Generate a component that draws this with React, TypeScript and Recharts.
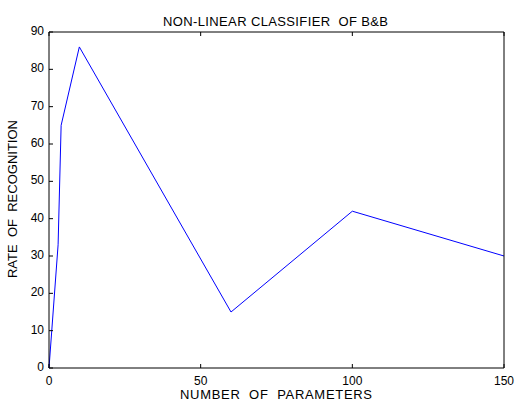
import React from "react";
import { LineChart, Line, XAxis, YAxis } from "recharts";

const paramCounts = [0, 3, 4, 10, 60, 100, 150];
const recognitionRates = [0, 33, 65, 86, 15, 42, 30];
const xTicks = [0, 50, 100, 150];
const yTicks = [0, 10, 20, 30, 40, 50, 60, 70, 80, 90];
const title = "NON-LINEAR CLASSIFIER  OF B&B";
const xLabel = "NUMBER  OF  PARAMETERS";
const yLabel = "RATE  OF  RECOGNITION";

const data = paramCounts.map((p, i) => ({ p, r: recognitionRates[i] }));

const W = 516;
const H = 403;
const FONT = "'Liberation Sans', Arial, sans-serif";
const FS = 12;
const LFS = 13;
const TL = 4;

const BottomTick = (props: any) => {
  const { x, y, payload } = props;
  return (
    <g>
      <line x1={x} y1={y} x2={x} y2={y - TL} stroke="#000" />
      <text x={x} y={y + 17} textAnchor="middle" fontSize={FS} fontFamily={FONT} fill="#000">
        {payload.value}
      </text>
    </g>
  );
};
const TopTick = (props: any) => {
  const { x, y } = props;
  return <line x1={x} y1={y} x2={x} y2={y + TL} stroke="#000" />;
};
const LeftTick = (props: any) => {
  const { x, y, payload } = props;
  return (
    <g>
      <line x1={x} y1={y} x2={x + TL} y2={y} stroke="#000" />
      <text x={x - 5} y={y + 3} textAnchor="end" fontSize={FS} fontFamily={FONT} fill="#000">
        {payload.value}
      </text>
    </g>
  );
};
const RightTick = (props: any) => {
  const { x, y } = props;
  return <line x1={x} y1={y} x2={x - TL} y2={y} stroke="#000" />;
};

export default function App() {
  return (
    <div style={{ position: "absolute", left: 0, top: 0, width: W, height: H, background: "#fff" }}>
      <LineChart width={W} height={H} data={data} margin={{ top: 0, right: 0, bottom: 0, left: 0 }}>
        <XAxis
          xAxisId="b"
          dataKey="p"
          type="number"
          domain={[0, 150]}
          ticks={xTicks}
          height={35}
          tickSize={0}
          tickMargin={0}
          tickLine={false}
          tick={<BottomTick />}
          axisLine={{ stroke: "#000" }}
          interval={0}
        />
        <XAxis
          xAxisId="t"
          orientation="top"
          dataKey="p"
          type="number"
          domain={[0, 150]}
          ticks={xTicks}
          height={32}
          tickSize={0}
          tickMargin={0}
          tickLine={false}
          tick={<TopTick />}
          axisLine={{ stroke: "#000" }}
          interval={0}
        />
        <YAxis
          yAxisId="l"
          type="number"
          domain={[0, 90]}
          ticks={yTicks}
          width={49}
          tickSize={0}
          tickMargin={0}
          tickLine={false}
          tick={<LeftTick />}
          axisLine={{ stroke: "#000" }}
          interval={0}
        />
        <YAxis
          yAxisId="r"
          orientation="right"
          type="number"
          domain={[0, 90]}
          ticks={yTicks}
          width={12}
          tickSize={0}
          tickMargin={0}
          tickLine={false}
          tick={<RightTick />}
          axisLine={{ stroke: "#000" }}
          interval={0}
        />
        <Line
          xAxisId="b"
          yAxisId="l"
          type="linear"
          dataKey="r"
          stroke="#0000ff"
          strokeWidth={1}
          dot={false}
          isAnimationActive={false}
        />
      </LineChart>
      <svg
        width={W}
        height={H}
        style={{ position: "absolute", left: 0, top: 0, pointerEvents: "none" }}
      >
        <text x={163} y={26} textLength={225} lengthAdjust="spacing" fontSize={LFS} fontFamily={FONT} fill="#000" style={{ whiteSpace: "pre" }}>
          {title}
        </text>
        <text x={180} y={399} textLength={192} lengthAdjust="spacing" fontSize={LFS} fontFamily={FONT} fill="#000" style={{ whiteSpace: "pre" }}>
          {xLabel}
        </text>
        <text
          x={0}
          y={0}
          textLength={158}
          lengthAdjust="spacing"
          fontSize={LFS}
          fontFamily={FONT}
          fill="#000"
          transform="translate(17 278) rotate(-90)"
          style={{ whiteSpace: "pre" }}
        >
          {yLabel}
        </text>
      </svg>
    </div>
  );
}
